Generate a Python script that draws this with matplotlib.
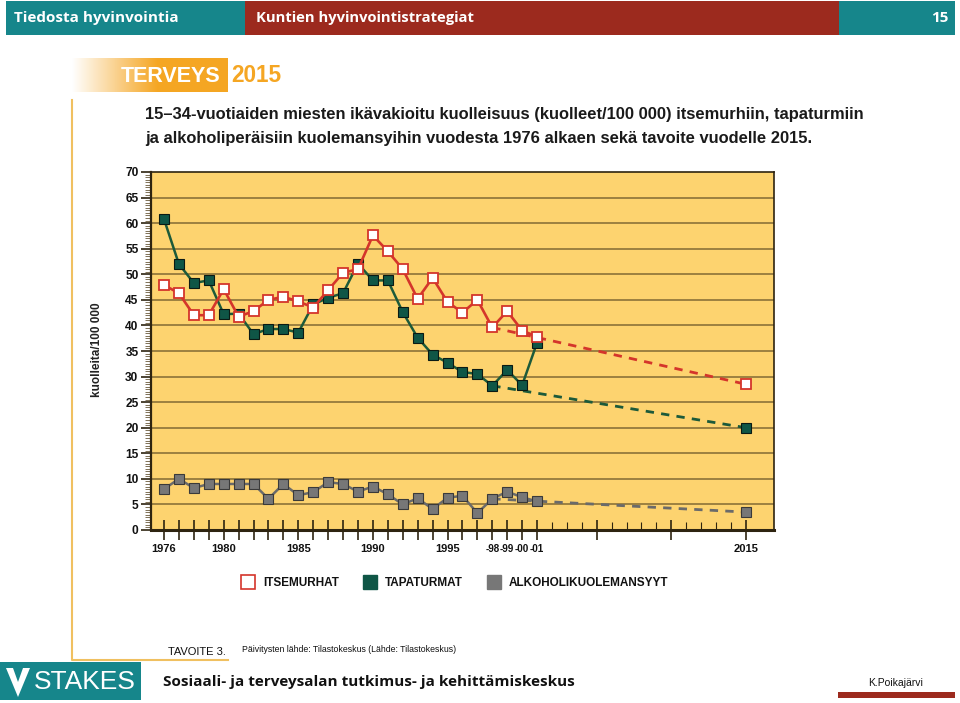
import numpy as np
import matplotlib
matplotlib.use("Agg")
import matplotlib.pyplot as plt
from matplotlib.patches import Rectangle, Polygon
from matplotlib.lines import Line2D

# ---------------- data ----------------
years = list(range(1976, 2002))
suicides = [47.9, 46.3, 42.0, 42.0, 47.1, 41.7, 42.8, 45.0, 45.6, 44.7, 43.5, 46.9, 50.3,
            51.0, 57.6, 54.5, 51.0, 45.2, 49.3, 44.6, 42.5, 45.0, 39.6, 42.8, 39.0, 37.8]
accidents = [60.8, 52.0, 48.3, 48.8, 42.2, 42.3, 38.3, 39.3, 39.3, 38.6, 44.1, 45.4, 46.3,
             52.1, 48.8, 48.8, 42.6, 37.6, 34.3, 32.7, 30.9, 30.5, 28.2, 31.3, 28.3, 36.6]
alcohol = [8.0, 10.0, 8.2, 9.0, 9.0, 9.0, 9.0, 6.1, 9.0, 6.8, 7.4, 9.35, 9.0,
           7.5, 8.5, 7.0, 5.0, 6.2, 4.1, 6.3, 6.7, 3.3, 6.1, 7.5, 6.4, 5.6]
trend_start = 1998
target_year = 2015
target_suicides = 28.5
target_accidents = 20.0
target_alcohol = 3.5

series_names = ["ITSEMURHAT", "TAPATURMAT", "ALKOHOLIKUOLEMANSYYT"]
x_label_ticks = [1976, 1980, 1985, 1990, 1995, 1998, 1999, 2000, 2001, 2015]
x_label_texts = ["1976", "1980", "1985", "1990", "1995", "-98", "-99", "-00", "-01", "2015"]
y_ticks = list(range(0, 75, 5))

title_lines = ["15\u201334-vuotiaiden miesten ikävakioitu kuolleisuus (kuolleet/100 000) itsemurhiin, tapaturmiin",
               "ja alkoholiperäisiin kuolemansyihin vuodesta 1976 alkaen sekä tavoite vuodelle 2015."]

# ---------------- style ----------------
W, H = 960, 703
TEAL = "#16868b"
DRED = "#9c2a1e"
ORANGE = "#f5a623"
YELLOW = "#fdd36f"
GRID = "#8c7238"
RED = "#d4352b"
GREEN_L = "#1c5a3a"
GREEN_F = "#0f5646"
GRAY_L = "#6a6a6a"
GRAY_F = "#777777"
LIB = ["Liberation Sans", "DejaVu Sans"]

plt.rcParams["font.family"] = LIB

fig = plt.figure(figsize=(W / 100, H / 100), dpi=100)
fig.patch.set_facecolor("white")

# overlay for page decoration, pixel coordinates
deco = fig.add_axes([0, 0, 1, 1], zorder=0)
deco.axis("off")

# header bar
deco.add_patch(Rectangle((6, 1), 239, 34, color=TEAL, lw=0))
deco.add_patch(Rectangle((245, 1), 594, 34, color=DRED, lw=0))
deco.add_patch(Rectangle((839, 1), 116, 34, color=TEAL, lw=0))
hdr = ["Open Sans", "DejaVu Sans"]
deco.text(14, 18, "Tiedosta hyvinvointia", color="white", fontsize=11, weight="bold",
          va="center", ha="left", family=hdr)
deco.text(256, 18, "Kuntien hyvinvointistrategiat", color="white", fontsize=10.6, weight="bold",
          va="center", ha="left", family=hdr)
deco.text(948, 18, "15", color="white", fontsize=11, weight="bold",
          va="center", ha="right", family=hdr)

# TERVEYS 2015 logo gradient
grad = np.linspace(0, 1, 200)
grad = np.clip(grad / 0.55, 0, 1)
rgb_o = np.array(matplotlib.colors.to_rgb(ORANGE))
img = (1 - grad)[:, None] * np.ones(3)[None, :] + grad[:, None] * rgb_o[None, :]
img = img[None, :, :]
deco.imshow(img, extent=(72, 228, 92, 58), aspect="auto", interpolation="bilinear", zorder=1)
deco.set_xlim(0, W)
deco.set_ylim(H, 0)
deco.text(121, 76, "TERVEYS", color="white", fontsize=15.5, weight="bold", va="center",
          ha="left", zorder=2)
deco.text(231, 76, "2015", color=ORANGE, fontsize=16.3, weight="bold", va="center",
          ha="left", zorder=2)

# orange frame line
deco.plot([72, 72, 228], [100, 660, 660], color="#f0c060", lw=1.5, zorder=1)

# title
deco.text(145, 115, title_lines[0], fontsize=11.9, weight="bold", color="#1a1a1a",
          va="center", ha="left")
deco.text(145, 138, title_lines[1], fontsize=11.9, weight="bold", color="#1a1a1a",
          va="center", ha="left")

# y label
deco.text(97, 350, "kuolleita/100 000", rotation=90, fontsize=8.5, weight="bold",
          va="center", ha="center", color="#222222")

# footer
deco.text(168, 652, "TAVOITE 3.", fontsize=8, color="#111111", va="center", ha="left")
deco.text(242, 650, "Päivitysten lähde: Tilastokeskus (Lähde: Tilastokeskus)", fontsize=6.3,
          color="#111111", va="center", ha="left")
deco.add_patch(Rectangle((0, 662), 141, 38, color=TEAL, lw=0))
deco.add_patch(Polygon([[6, 668], [30, 668], [18, 697]], closed=True, color="white", lw=0))
deco.add_patch(Polygon([[13, 668], [23, 668], [18, 682]], closed=True, color=TEAL, lw=0))
deco.text(34, 682, "STAKES", color="white", fontsize=19, va="center", ha="left")
deco.text(163, 682, "Sosiaali- ja terveysalan tutkimus- ja kehittämiskeskus", fontsize=11,
          weight="bold", color="#111111", va="center", ha="left", family=hdr)
deco.text(868, 683, "K.Poikajärvi", fontsize=7.5, color="#111111", va="center", ha="left")
deco.add_patch(Rectangle((838, 692), 117, 6, color=DRED, lw=0))

# ---------------- main chart ----------------
left, right, top, bottom = 151, 774, 172, 530
ax = fig.add_axes([left / W, 1 - bottom / H, (right - left) / W, (bottom - top) / H], zorder=2)
ax.set_facecolor(YELLOW)
ax.set_xlim(1975.13, 2016.88)
ax.set_ylim(0, 70)

for yv in y_ticks[1:-1]:
    ax.axhline(yv, color=GRID, lw=1.2, zorder=1)

# trend lines (dashed)
i0 = years.index(trend_start)
dash = (0, (3, 2.6))
ax.plot([trend_start, target_year], [suicides[i0], target_suicides], color=RED, lw=2,
        ls=dash, zorder=3)
ax.plot([trend_start, target_year], [accidents[i0], target_accidents], color=GREEN_L, lw=2,
        ls=dash, zorder=3)
ax.plot([trend_start, target_year], [alcohol[i0], target_alcohol], color=GRAY_L, lw=2,
        ls=dash, zorder=3)

ms = 7
ax.plot(years, alcohol, color=GRAY_L, lw=1.8, marker="s", ms=ms, mfc=GRAY_F, mec="#3a3a3a",
        mew=0.8, zorder=4)
ax.plot(years, accidents, color=GREEN_L, lw=1.8, marker="s", ms=ms, mfc=GREEN_F, mec="#0a1a14",
        mew=0.8, zorder=4)
ax.plot(years, suicides, color=RED, lw=1.9, marker="s", ms=ms, mfc="white", mec=RED,
        mew=1.3, zorder=5)
ax.plot([target_year], [target_suicides], ls="none", marker="s", ms=ms, mfc="white", mec=RED,
        mew=1.3, zorder=5)
ax.plot([target_year], [target_accidents], ls="none", marker="s", ms=ms, mfc=GREEN_F,
        mec="#0a1a14", mew=0.8, zorder=5)
ax.plot([target_year], [target_alcohol], ls="none", marker="s", ms=ms, mfc=GRAY_F,
        mec="#3a3a3a", mew=0.8, zorder=5)

# spines
for s in ax.spines.values():
    s.set_color("#2e2410")
    s.set_linewidth(1.2)
ax.spines["bottom"].set_linewidth(2.2)
ax.spines["left"].set_linewidth(1.6)

# x ticks
major_x = years + [2005, 2010, 2015]
minor_x = [y for y in range(2002, 2015) if y not in (2005, 2010)]
ax.set_xticks(major_x)
lab = []
for y in major_x:
    lab.append(x_label_texts[x_label_ticks.index(y)] if y in x_label_ticks else "")
ax.set_xticklabels(lab)
ax.set_xticks(minor_x, minor=True)
ax.tick_params(axis="x", which="major", direction="inout", length=14, width=1.2,
               color="#2e2410", pad=3)
ax.tick_params(axis="x", which="minor", direction="in", length=6, width=0.8, color="#2e2410")

# y ticks
ax.set_yticks(y_ticks)
ax.set_yticklabels([str(v) for v in y_ticks])
ax.set_yticks(np.arange(0, 70.01, 0.5), minor=True)
ax.tick_params(axis="y", which="major", direction="out", length=7, width=1.2,
               color="#2e2410", pad=2)
ax.tick_params(axis="y", which="minor", direction="out", length=4, width=0.6, color="#6a5a3a")

for t in ax.get_xticklabels():
    txt = t.get_text()
    t.set_fontsize(8.0 if len(txt) == 4 else 7.1)
    t.set_fontweight("bold")
    t.set_color("#111111")
for t in ax.get_yticklabels():
    t.set_fontsize(8.6)
    t.set_fontweight("bold")
    t.set_color("#111111")

# legend
handles = [
    Line2D([], [], ls="none", marker="s", ms=10, mfc="white", mec=RED, mew=1.2),
    Line2D([], [], ls="none", marker="s", ms=10, mfc=GREEN_F, mec=GREEN_F, mew=1.0),
    Line2D([], [], ls="none", marker="s", ms=10, mfc=GRAY_F, mec=GRAY_F, mew=1.0),
]
leg = fig.legend(handles, series_names, loc="center", bbox_to_anchor=(455 / W, 1 - 583 / H),
                 ncol=3, frameon=False, handletextpad=0.7, columnspacing=2.1,
                 prop={"size": 8.5, "weight": "bold"}, handlelength=1.1)
for t in leg.get_texts():
    t.set_color("#111111")

fig.savefig("out.png", dpi=100)
